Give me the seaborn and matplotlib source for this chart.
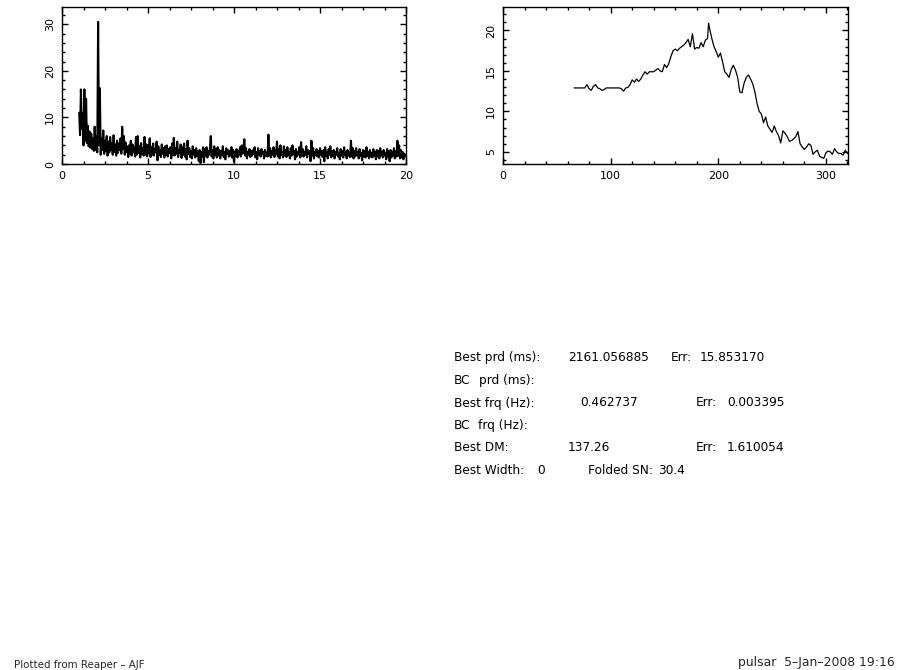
import numpy as np
import pandas as pd
import matplotlib
matplotlib.use("Agg")
import matplotlib.pyplot as plt
from matplotlib.ticker import MultipleLocator
import seaborn as sns

# ---------------- data ----------------
spec_start = 1.0
spec_step = 0.05
spec_power = [
    11.0, 6.2, 16.0, 7.5, 11.0, 4.0, 16.0, 5.0, 14.0, 4.5, 8.2, 3.8, 7.0, 3.5, 6.5, 3.2, 5.5, 2.8, 8.0, 3.0,
    6.0, 2.5, 30.5, 4.0, 16.3, 2.0, 5.5, 3.0, 7.2, 2.2, 5.0, 2.8, 6.0, 1.8, 4.8, 2.5, 5.8, 3.0, 4.5, 2.0,
    6.2, 2.6, 4.2, 1.8, 5.0, 2.4, 4.4, 3.0, 5.5, 2.2, 8.0, 3.2, 6.0, 2.0, 4.6, 2.6, 3.8, 1.5, 4.0, 2.2,
    5.0, 1.8, 4.2, 2.5, 3.6, 1.6, 5.8, 2.0, 6.0, 2.4, 3.8, 1.4, 4.5, 2.2, 3.4, 1.8, 5.8, 2.0, 4.2, 1.6,
    4.0, 2.3, 5.5, 1.5, 3.6, 2.0, 4.4, 1.8, 3.2, 2.6, 4.8, 0.8, 3.8, 2.0, 3.0, 1.5, 4.2, 2.2, 3.4, 1.4,
    3.8, 2.0, 4.0, 1.6, 3.2, 2.4, 3.6, 1.2, 4.4, 2.0, 5.6, 1.8, 3.4, 2.2, 4.8, 1.5, 3.0, 2.4, 4.2, 1.3,
    3.6, 2.0, 4.4, 1.6, 3.2, 1.0, 5.0, 2.2, 3.4, 1.5, 2.8, 1.2, 3.8, 2.0, 3.0, 1.4, 3.4, 1.8, 2.8, 0.6,
    3.0, 0.2, 2.6, 1.6, 3.6, 0.4, 3.2, 1.8, 3.6, 1.4, 2.8, 2.0, 3.4, 6.0, 1.6, 3.0, 1.2, 3.8, 2.0, 3.2,
    1.4, 3.6, 1.8, 3.0, 1.2, 2.8, 2.0, 3.8, 1.5, 2.6, 1.0, 3.4, 2.2, 3.0, 1.6, 2.8, 1.8, 3.6, 1.4, 3.0,
    0.4, 2.6, 1.8, 3.2, 1.4, 2.8, 2.0, 3.6, 1.6, 4.0, 2.2, 3.0, 5.3, 1.8, 3.4, 1.2, 2.6, 2.0, 3.2, 1.5,
    2.8, 1.8, 3.0, 2.2, 3.6, 1.4, 2.6, 1.0, 3.4, 2.0, 2.8, 1.6, 3.2, 2.2, 2.6, 1.2, 3.0, 1.8, 2.4, 1.6,
    6.3, 1.8, 3.4, 1.4, 2.8, 2.0, 3.6, 1.5, 3.0, 2.2, 4.8, 1.6, 3.2, 1.2, 4.0, 2.0, 2.6, 1.4, 3.8, 1.8,
    3.0, 1.5, 3.6, 2.0, 2.6, 1.2, 3.4, 1.8, 4.0, 2.2, 2.8, 1.0, 3.2, 1.6, 2.6, 2.0, 3.6, 1.4, 4.7, 1.8,
    3.2, 1.6, 2.6, 2.0, 3.8, 1.4, 3.0, 2.2, 2.8, 0.6, 5.0, 1.8, 3.4, 1.2, 2.6, 2.0, 3.2, 1.6, 2.8, 1.4,
    3.4, 2.0, 2.8, 1.5, 3.0, 0.6, 3.6, 1.8, 2.6, 1.2, 3.2, 2.0, 3.8, 1.4, 2.8, 1.8, 3.0, 1.2, 2.6, 2.0,
    3.4, 1.6, 2.4, 1.0, 3.2, 1.8, 2.8, 1.4, 3.6, 2.0, 2.6, 1.2, 3.0, 1.8, 2.4, 1.5, 5.0, 1.6, 3.4, 1.2,
    2.8, 1.6, 3.4, 2.0, 2.6, 1.2, 3.2, 1.8, 2.4, 0.8, 3.0, 1.6, 2.8, 1.4, 3.6, 1.8, 2.6, 1.2, 3.0, 1.6,
    2.4, 1.4, 3.2, 1.8, 2.6, 1.0, 3.0, 1.6, 2.8, 1.2, 3.4, 2.0, 2.6, 1.4, 3.0, 1.8, 2.4, 1.0, 3.2, 1.6,
    2.8, 0.6, 3.0, 1.4, 2.6, 1.8, 3.4, 1.2, 2.8, 1.6, 5.0, 1.8, 4.0, 1.2, 3.0, 1.4, 2.6, 1.0, 2.2, 1.6,
    2.0,
]

dm_trial = [66, 68, 70, 72, 74, 76, 78, 80, 82, 84, 86, 88, 90, 92, 94, 96, 98, 100, 102, 104,
            106, 108, 110, 112, 114, 116, 118, 120, 122, 124, 126, 128, 130, 132, 134, 136, 138, 140,
            142, 144, 146, 148, 150, 152, 154, 156, 158, 160, 162, 164, 166, 168, 170, 172, 174, 176,
            178, 180, 182, 184, 186, 188, 190, 191, 192, 194, 196, 198, 200, 202, 204, 206, 208, 210,
            212, 214, 216, 218, 220, 222, 224, 226, 228, 230, 232, 234, 236, 238, 240, 242, 244, 246,
            248, 250, 252, 254, 256, 258, 260, 262, 264, 266, 268, 270, 272, 274, 276, 278, 280, 282,
            284, 286, 288, 290, 292, 294, 296, 298, 300, 302, 304, 306, 308, 310, 312, 314, 316, 318, 320]
dm_snr = [12.9, 12.9, 12.9, 12.9, 12.9, 12.9, 13.3, 12.8, 12.6, 13.1, 13.3, 12.9, 12.8, 12.6, 12.7, 12.9,
          12.9, 12.9, 12.9, 12.9, 12.9, 12.9, 12.8, 12.5, 12.9, 12.95, 13.3, 13.9, 13.6, 14.0, 13.7, 14.0,
          14.5, 14.9, 14.6, 14.9, 14.9, 14.9, 15.1, 15.3, 15.0, 14.9, 15.8, 15.4, 15.9, 16.8, 17.5, 17.7,
          17.5, 17.8, 18.0, 18.2, 18.5, 18.9, 18.0, 19.6, 17.7, 17.9, 17.8, 18.5, 18.0, 18.8, 19.0, 20.9,
          20.2, 19.0, 18.0, 17.4, 16.7, 17.2, 16.1, 14.9, 14.6, 14.2, 15.2, 15.7, 15.1, 14.2, 12.4, 12.3,
          13.5, 14.2, 14.5, 14.0, 13.4, 12.4, 11.0, 10.0, 9.7, 8.6, 9.3, 8.2, 7.8, 7.4, 8.2, 7.5, 7.0,
          6.1, 7.6, 7.3, 6.9, 6.3, 6.4, 6.6, 6.9, 7.5, 6.0, 5.6, 5.3, 5.6, 6.0, 5.8, 4.7, 5.0, 5.2, 4.5,
          4.3, 4.2, 4.9, 5.1, 5.0, 4.7, 5.4, 5.0, 4.8, 4.8, 4.6, 5.2, 4.8]

info_lines = [
    ["Best prd (ms):", "2161.056885", "Err:", "15.853170"],
    ["BC", "prd (ms):"],
    ["Best frq (Hz):", "0.462737", "Err:", "0.003395"],
    ["BC", "frq (Hz):"],
    ["Best DM:", "137.26", "Err:", "1.610054"],
    ["Best Width:", "0", "Folded SN:", "30.4"],
]
footer_left = "Plotted from Reaper \u2013 AJF"
footer_right = "pulsar  5\u2013Jan\u20132008 19:16"

# ---------------- plotting ----------------
sns.set_style("white")
plt.rcParams['font.family'] = ['DejaVu Sans']

W, H = 901, 670
fig = plt.figure(figsize=(W / 100, H / 100), dpi=100)

def px_axes(x0, y0, x1, y1):
    return fig.add_axes([x0 / W, 1 - y1 / H, (x1 - x0) / W, (y1 - y0) / H])

ax1 = px_axes(62, 7, 406, 164)
ax2 = px_axes(503, 7, 848, 164)

spec_freq = spec_start + spec_step * np.arange(len(spec_power))
df1 = pd.DataFrame({"freq": spec_freq, "power": spec_power})
df2 = pd.DataFrame({"dm": dm_trial, "snr": dm_snr})

sns.lineplot(data=df1, x="freq", y="power", ax=ax1, color="black", lw=1.5,
             estimator=None, sort=False)
sns.lineplot(data=df2, x="dm", y="snr", ax=ax2, color="black", lw=0.9,
             estimator=None, sort=False)

ax1.set_xlim(0, 20)
ax1.set_ylim(0, 33.7)
ax1.xaxis.set_major_locator(MultipleLocator(5))
ax1.xaxis.set_minor_locator(MultipleLocator(1.25))
ax1.yaxis.set_major_locator(MultipleLocator(10))
ax1.yaxis.set_minor_locator(MultipleLocator(2))

ax2.set_xlim(0, 320.5)
ax2.set_ylim(3.5, 22.9)
ax2.xaxis.set_major_locator(MultipleLocator(100))
ax2.xaxis.set_minor_locator(MultipleLocator(20))
ax2.yaxis.set_major_locator(MultipleLocator(5))
ax2.yaxis.set_minor_locator(MultipleLocator(1))

for ax in (ax1, ax2):
    ax.set_xlabel("")
    ax.set_ylabel("")
    for s in ax.spines.values():
        s.set_visible(True)
        s.set_color("black")
        s.set_linewidth(1.0)
    ax.tick_params(which="both", direction="in", top=True, right=True,
                   bottom=True, left=True, color="black", width=1.0,
                   labelsize=8, labelcolor="black")
    ax.tick_params(which="major", length=4.0, pad=5)
    ax.tick_params(which="minor", length=2.2)
    ax.tick_params(axis="y", labelrotation=90)
    for lab in ax.get_yticklabels():
        lab.set_va("center")
    ax.set_facecolor("white")

# info text block
col_x = {
    0: [454, 568, 671, 700],
    1: [454, 479],
    2: [454, 580, 696, 727],
    3: [454, 478],
    4: [454, 568, 696, 727],
    5: [454, 537, 588, 658],
}
baselines = [361, 384, 406.5, 429, 451, 473.5]
for i, parts in enumerate(info_lines):
    for j, t in enumerate(parts):
        fig.text(col_x[i][j] / W, 1 - baselines[i] / H, t, fontsize=8.7,
                 ha="left", va="baseline", color="black")

fig.text(14 / W, 1 - 668 / H, footer_left, fontsize=7.4, ha="left", va="baseline")
fig.text(895 / W, 1 - 666 / H, footer_right, fontsize=8.9, ha="right", va="baseline")

fig.savefig("out.png", dpi=100, facecolor="white")
